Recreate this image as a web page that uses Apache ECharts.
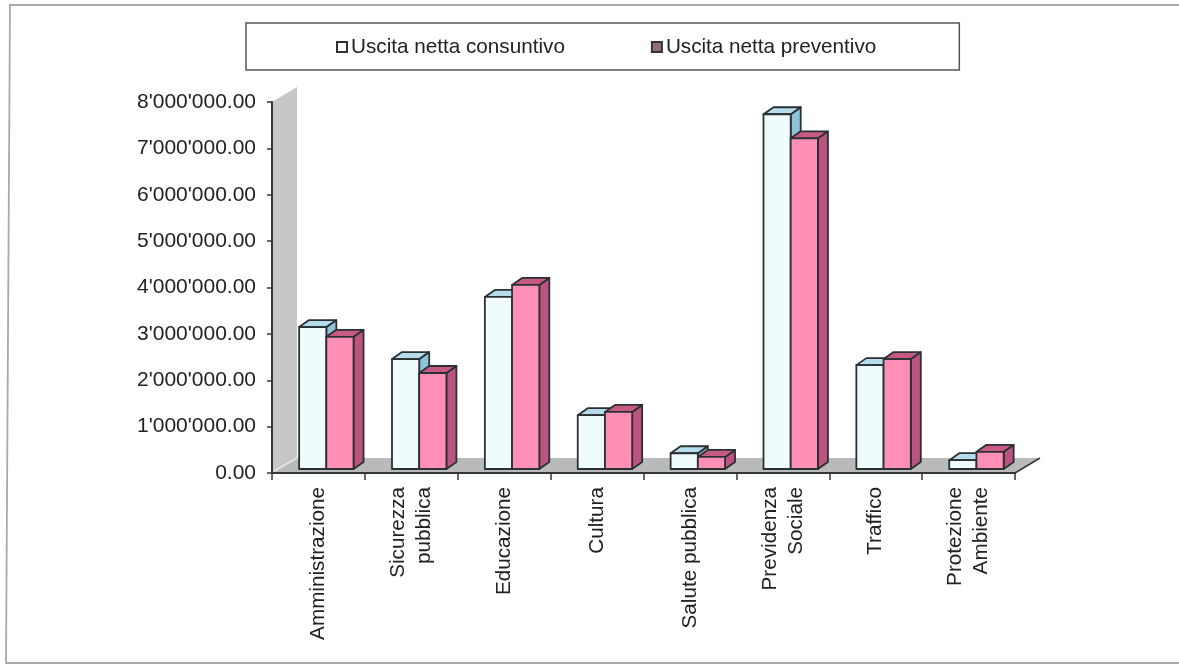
<!DOCTYPE html>
<html><head><meta charset="utf-8">
<style>html,body{margin:0;padding:0;background:#fff}#c{width:1179px;height:665px}</style>
<script src="https://cdn.jsdelivr.net/npm/echarts@6/dist/echarts.min.js"></script>
</head><body><div id="c"></div>
<script>
const categories = ['Amministrazione','Sicurezza\npubblica','Educazione','Cultura','Salute pubblica','Previdenza\nSociale','Traffico','Protezione\nAmbiente'];
const consuntivo = [3060000,2370000,3710000,1160000,340000,7650000,2240000,190000];
const preventivo = [2850000,2070000,3970000,1230000,260000,7130000,2370000,370000];
const yTickLabels = ["0.00","1'000'000.00","2'000'000.00","3'000'000.00","4'000'000.00","5'000'000.00","6'000'000.00","7'000'000.00","8'000'000.00"];
const seriesNames = ['Uscita netta consuntivo','Uscita netta preventivo'];

const FONT = '"Liberation Sans", Arial, sans-serif';
const DX = 10, DY = -7, LIFT = -4, LINE = '#2b3033';

function barItem(sideIndex, front, top, side) {
  return function (params, api) {
    const cat = api.value(0), val = api.value(1);
    const band = api.size([1, 0])[0];
    const w = band * 0.293;
    const c = api.coord([cat, val]), b = api.coord([cat, 0]);
    const x0 = c[0] + band * 0.085 + (sideIndex - 1) * w;
    const x1 = x0 + w;
    const yt = c[1] + LIFT, yb = b[1] + LIFT;
    const st = { stroke: LINE, lineWidth: 1.8, lineJoin: 'round' };
    const poly = (pts, fill) => ({ type: 'polygon', shape: { points: pts }, style: Object.assign({ fill }, st) });
    return { type: 'group', children: [
      poly([[x1, yb], [x1 + DX, yb + DY], [x1 + DX, yt + DY], [x1, yt]], side),
      poly([[x0, yt], [x0 + DX, yt + DY], [x1 + DX, yt + DY], [x1, yt]], top),
      poly([[x0, yb], [x1, yb], [x1, yt], [x0, yt]], front)
    ]};
  };
}

function wallFloor(params, api) {
  const o = api.coord([0, 0]), t = api.coord([0, 8000000]);
  const band = api.size([1, 0])[0];
  const x0 = o[0] - band / 2, x1 = x0 + band * categories.length;
  const dx = 25, dy = -15;
  return { type: 'group', children: [
    { type: 'polygon', shape: { points: [[x0, o[1]], [x0 + dx, o[1] + dy], [x0 + dx, t[1] + dy], [x0, t[1]]] }, style: { fill: '#c6c8c8' } },
    { type: 'polygon', shape: { points: [[x0, o[1]], [x0 + dx, o[1] + dy], [x1 + dx, o[1] + dy], [x1, o[1]]] }, style: { fill: '#b9bbba' } },
    { type: 'line', shape: { x1: x1, y1: o[1], x2: x1 + dx, y2: o[1] + dy }, style: { stroke: '#33383a', lineWidth: 1.5 } },
    { type: 'line', shape: { x1: x0 + 2, y1: o[1] - 2, x2: x0 + dx, y2: o[1] + dy }, style: { stroke: '#e4e6e6', lineWidth: 2 } }
  ]};
}

const chart = echarts.init(document.getElementById('c'), null, { renderer: 'canvas' });
chart.setOption({
  animation: false,
  backgroundColor: '#fff',
  graphic: [{ type: 'polyline', silent: true, z: -1, shape: { points: [[1179, 5], [10, 5], [6, 663], [1179, 663]] }, style: { fill: 'none', stroke: '#a9a9a9', lineWidth: 1.8 } }],
  legend: {
    data: seriesNames.map(n => ({ name: n, icon: 'rect' })),
    left: 246, top: 23,
    padding: [13.5, 83, 12.5, 90],
    itemGap: 86, itemWidth: 10, itemHeight: 10,
    backgroundColor: '#fff', borderColor: '#555', borderWidth: 1.5,
    textStyle: { fontFamily: FONT, fontSize: 20.7, color: '#222', padding: [0, 0, 0, -1] },
    selectedMode: false
  },
  grid: { left: 272, right: 164, top: 102, bottom: 192 },
  xAxis: {
    type: 'category', data: categories, z: 6,
    axisLine: { lineStyle: { color: '#33383a', width: 2 } },
    axisTick: { show: true, length: 7, lineStyle: { color: '#33383a', width: 1.5 } },
    axisLabel: { rotate: 90, interval: 0, margin: 14, fontFamily: FONT, fontSize: 20.7, color: '#222', lineHeight: 26, align: 'right', verticalAlign: 'middle' }
  },
  yAxis: {
    type: 'value', min: 0, max: 8000000, interval: 1000000, z: 6,
    splitLine: { show: false },
    axisLine: { show: true, lineStyle: { color: '#33383a', width: 2 } },
    axisTick: { show: true, length: 5, lineStyle: { color: '#33383a', width: 1.5 } },
    axisLabel: { margin: 16, fontFamily: FONT, fontSize: 21, color: '#222', formatter: v => yTickLabels[Math.round(v / 1000000)] }
  },
  series: [
    { type: 'custom', silent: true, z: 1, data: [[0, 0]], renderItem: wallFloor, encode: { x: 0, y: 1 } },
    { type: 'custom', name: seriesNames[0], z: 2, data: consuntivo.map((v, i) => [i, v]), encode: { x: 0, y: 1 },
      itemStyle: { color: '#ffffff', borderColor: '#333', borderWidth: 3 },
      renderItem: barItem(0, '#effbfd', '#b5dcea', '#8fc3d8') },
    { type: 'custom', name: seriesNames[1], z: 3, data: preventivo.map((v, i) => [i, v]), encode: { x: 0, y: 1 },
      itemStyle: { color: '#8f6f7f', borderColor: '#333', borderWidth: 3 },
      renderItem: barItem(1, '#ff8fb6', '#c75a85', '#bb5480') }
  ]
});
</script></body></html>
